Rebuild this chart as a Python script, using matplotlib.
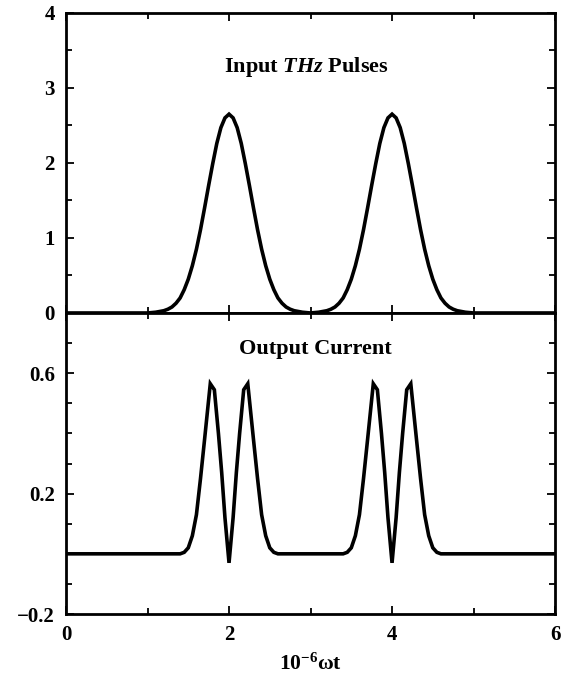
#!/usr/bin/env python3
# -*- coding: utf-8 -*-
"""
Input THz pulses (top) and the output current (bottom) vs 10^-6 wt.
"""
import matplotlib
matplotlib.use("Agg")
import matplotlib.pyplot as plt
from matplotlib.ticker import MultipleLocator, FixedLocator

# pulse centres along the time axis
centres = [2.0, 4.0]

# input pulse shape: offset from centre and amplitude
in_dx = [-1.0, -0.9, -0.8, -0.75, -0.7, -0.65, -0.6, -0.55, -0.5, -0.45,
         -0.4, -0.35, -0.3, -0.25, -0.2, -0.15, -0.1, -0.05, 0.0,
         0.05, 0.1, 0.15, 0.2, 0.25, 0.3, 0.35, 0.4, 0.45, 0.5, 0.55,
         0.6, 0.65, 0.7, 0.75, 0.8, 0.9, 1.0]
in_val = [0.0, 0.01, 0.03, 0.05, 0.08, 0.13, 0.20, 0.31, 0.45, 0.63,
          0.85, 1.11, 1.40, 1.70, 1.99, 2.26, 2.47, 2.60, 2.65,
          2.60, 2.47, 2.26, 1.99, 1.70, 1.40, 1.11, 0.85, 0.63, 0.45, 0.31,
          0.20, 0.13, 0.08, 0.05, 0.03, 0.01, 0.0]

# output current shape around each pulse centre
out_dx = [-0.6, -0.55, -0.5, -0.45, -0.4, -0.35, -0.3, -0.23, -0.18,
          -0.13, -0.09, -0.05, 0.0, 0.05, 0.09, 0.13, 0.18, 0.23, 0.3,
          0.35, 0.4, 0.45, 0.5, 0.55, 0.6]
out_val = [0.0, 0.005, 0.02, 0.06, 0.13, 0.25, 0.38, 0.565, 0.545,
           0.40, 0.27, 0.12, -0.03, 0.12, 0.27, 0.40, 0.545, 0.565, 0.38,
           0.25, 0.13, 0.06, 0.02, 0.005, 0.0]

out_yticks = [-0.2, 0.2, 0.6]

X_MIN, X_MAX = 0.0, 6.0


def build_trace(dx, val):
    xs = [X_MIN]
    ys = [0.0]
    for c in centres:
        for d, v in zip(dx, val):
            xs.append(c + d)
            ys.append(v)
    xs.append(X_MAX)
    ys.append(0.0)
    return xs, ys


def style_axis(ax):
    ax.tick_params(which="both", direction="in", top=True, right=True,
                   width=1.3, labelsize=15, pad=8)
    ax.tick_params(which="major", length=6)
    ax.tick_params(which="minor", length=4)
    for sp in ax.spines.values():
        sp.set_linewidth(2.0)
    for lab in ax.get_xticklabels() + ax.get_yticklabels():
        lab.set_fontweight("bold")


def main():
    plt.rcParams["font.family"] = ["Liberation Serif", "DejaVu Serif"]
    plt.rcParams["font.weight"] = "bold"
    plt.rcParams["mathtext.fontset"] = "custom"
    plt.rcParams["mathtext.rm"] = "Liberation Serif:bold"
    plt.rcParams["mathtext.it"] = "Liberation Serif:bold:italic"
    plt.rcParams["mathtext.bf"] = "Liberation Serif:bold"

    fig = plt.figure(figsize=(5.74, 6.77), dpi=100)
    left, right = 0.115, 0.967
    mid, top, bot = 0.5377, 0.981, 0.093
    ax1 = fig.add_axes([left, mid, right - left, top - mid])
    ax2 = fig.add_axes([left, bot, right - left, mid - bot], sharex=ax1)

    x1, y1 = build_trace(in_dx, in_val)
    ax1.plot(x1, y1, color="black", lw=2.6, solid_joinstyle="miter")
    ax1.set_ylim(0, 4)
    ax1.yaxis.set_major_locator(MultipleLocator(1))
    ax1.yaxis.set_minor_locator(MultipleLocator(0.5))
    ax1.text(2.95, 3.28, "Input $\\mathit{THz}$ Pulses", ha="center",
             va="center", fontsize=16, fontweight="bold")

    x2, y2 = build_trace(out_dx, out_val)
    ax2.plot(x2, y2, color="black", lw=2.6, solid_joinstyle="miter")
    ax2.set_ylim(-0.2, 0.8)
    ax2.yaxis.set_major_locator(FixedLocator(out_yticks))
    ax2.yaxis.set_minor_locator(MultipleLocator(0.1))
    ax2.text(3.06, 0.68, "Output Current", ha="center", va="center",
             fontsize=16, fontweight="bold")

    ax2.set_xlim(X_MIN, X_MAX)
    ax2.xaxis.set_major_locator(MultipleLocator(2))
    ax2.xaxis.set_minor_locator(MultipleLocator(1))
    ax2.set_xlabel("$10^{-6}$ωt", fontsize=15.5, fontweight="bold",
                   labelpad=6)

    style_axis(ax1)
    style_axis(ax2)
    plt.setp(ax1.get_xticklabels(), visible=False)

    fig.savefig("out.png", dpi=100)


if __name__ == "__main__":
    main()
